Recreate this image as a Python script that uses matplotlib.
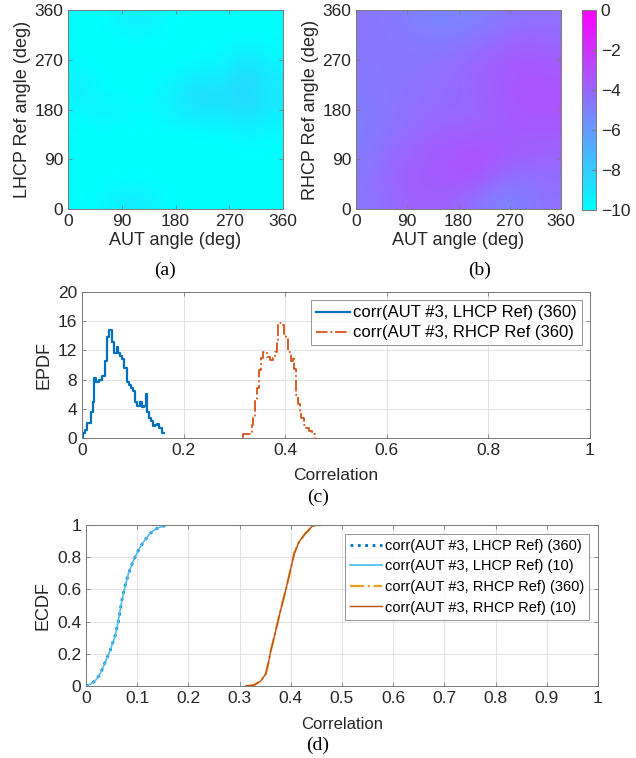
import numpy as np
import matplotlib
matplotlib.use("Agg")
import matplotlib.pyplot as plt

plt.rcParams['font.family'] = ['Liberation Sans', 'DejaVu Sans']

# ---- data ----
angles = [0, 45, 90, 135, 180, 225, 270, 315, 360]

# (a) corr with LHCP ref, rows = ref angle 0..360, cols = AUT angle 0..360
lhcp_map = [
    [-10.0, -9.8, -9.1, -9.5, -10.0, -10.0, -10.0, -10.0, -10.0],
    [-10.0, -10.0, -10.0, -10.0, -10.0, -10.0, -10.0, -10.0, -10.0],
    [-10.0, -10.0, -10.0, -10.0, -10.0, -10.0, -10.0, -10.0, -10.0],
    [-10.0, -10.0, -10.0, -10.0, -10.0, -10.0, -10.0, -9.5, -9.8],
    [-9.8, -9.3, -9.8, -9.8, -9.3, -8.7, -8.9, -8.5, -9.2],
    [-9.2, -10.0, -10.0, -10.0, -9.3, -8.7, -8.9, -8.4, -9.1],
    [-9.8, -10.0, -10.0, -10.0, -10.0, -9.8, -9.6, -8.6, -9.5],
    [-10.0, -10.0, -10.0, -10.0, -10.0, -10.0, -10.0, -9.7, -10.0],
    [-10.0, -10.0, -9.3, -9.4, -10.0, -10.0, -10.0, -10.0, -10.0],
]

# (b) corr with RHCP ref
rhcp_map = [
    [-4.6, -4.2, -3.8, -3.8, -4.0, -4.6, -5.2, -4.8, -4.4],
    [-4.6, -4.0, -3.7, -3.5, -3.3, -3.4, -4.2, -4.4, -4.2],
    [-4.8, -4.2, -3.9, -3.6, -3.3, -3.2, -3.5, -3.8, -3.9],
    [-4.9, -4.5, -4.2, -3.9, -3.8, -3.7, -3.7, -3.6, -3.6],
    [-4.9, -4.6, -4.4, -4.2, -4.2, -4.0, -3.6, -3.3, -3.3],
    [-4.8, -4.6, -4.5, -4.3, -4.2, -3.9, -3.5, -3.2, -3.3],
    [-4.7, -4.6, -4.6, -4.5, -4.2, -3.9, -3.6, -3.4, -3.6],
    [-4.6, -4.6, -4.7, -4.8, -4.7, -4.3, -4.0, -3.8, -4.0],
    [-4.6, -4.7, -5.0, -5.2, -5.2, -5.0, -4.6, -4.4, -4.4],
]

# (c) EPDF staircases (bin start, density)
epdf_l_x = [0.000, 0.0013, 0.0059, 0.0092, 0.017, 0.021, 0.024, 0.0276, 0.034, 0.0387,
            0.045, 0.0486, 0.0538, 0.059, 0.063, 0.068, 0.0715, 0.075, 0.079, 0.083,
            0.088, 0.093, 0.096, 0.0997, 0.104, 0.108, 0.114, 0.119, 0.122, 0.126,
            0.127, 0.131, 0.135, 0.140, 0.144, 0.148, 0.152, 0.157, 0.161]
epdf_l_y = [0.0, 0.7, 1.1, 2.0, 3.6, 5.0, 8.2, 7.7, 8.0, 8.5,
            10.5, 13.9, 14.8, 13.1, 11.6, 12.4, 11.6, 11.3, 10.8, 9.6,
            7.7, 7.3, 6.8, 6.4, 5.0, 4.4, 4.9, 4.2, 4.4, 6.0,
            3.6, 2.7, 2.3, 1.6, 1.8, 1.9, 1.4, 0.7, 0.7]

epdf_r_x = [0.314, 0.3176, 0.334, 0.337, 0.341, 0.345, 0.349, 0.352, 0.357, 0.3635,
            0.370, 0.375, 0.380, 0.383, 0.3865, 0.393, 0.3976, 0.4016, 0.406, 0.411,
            0.415, 0.417, 0.421, 0.426, 0.429, 0.432, 0.437, 0.441, 0.4475, 0.4536,
            0.459]
epdf_r_y = [0.2, 0.55, 1.8, 2.9, 5.2, 6.8, 9.3, 10.9, 11.8, 11.1,
            10.7, 10.9, 11.8, 13.4, 15.7, 15.5, 14.3, 13.9, 11.8, 10.5,
            11.1, 9.5, 5.9, 4.7, 3.4, 2.7, 1.8, 1.4, 0.9, 0.55,
            0.0]

# (d) ECDF
ecdf_l360_x = [0.0, 0.0078, 0.0176, 0.0275, 0.0373, 0.047, 0.0569, 0.0634, 0.070, 0.0765,
               0.083, 0.0928, 0.1026, 0.1124, 0.1255, 0.1386, 0.158]
ecdf_l360_y = [0.0, 0.01, 0.031, 0.073, 0.146, 0.219, 0.313, 0.406, 0.531, 0.625,
               0.698, 0.781, 0.844, 0.896, 0.948, 0.979, 1.0]
ecdf_l10_x = [0.0, 0.0078, 0.0176, 0.0275, 0.0373, 0.047, 0.0569, 0.0634, 0.070, 0.0765,
              0.083, 0.0928, 0.1026, 0.1124, 0.1255, 0.1386, 0.158]
ecdf_l10_y = [0.0, 0.01, 0.03, 0.075, 0.145, 0.22, 0.31, 0.41, 0.53, 0.62,
              0.70, 0.78, 0.845, 0.895, 0.95, 0.98, 1.0]

ecdf_r360_x = [0.3118, 0.328, 0.341, 0.351, 0.356, 0.361, 0.3706, 0.380, 0.390, 0.400,
               0.4065, 0.416, 0.429, 0.4425, 0.459]
ecdf_r360_y = [0.0, 0.006, 0.031, 0.073, 0.14, 0.219, 0.344, 0.469, 0.594, 0.729,
               0.823, 0.896, 0.948, 0.994, 1.0]
ecdf_r10_x = [0.3118, 0.328, 0.341, 0.351, 0.356, 0.361, 0.3706, 0.380, 0.390, 0.400,
              0.4065, 0.416, 0.429, 0.4425, 0.459]
ecdf_r10_y = [0.0, 0.005, 0.03, 0.075, 0.14, 0.22, 0.345, 0.47, 0.595, 0.73,
              0.82, 0.895, 0.95, 0.995, 1.0]

deg_ticks = [0, 90, 180, 270, 360]
cbar_ticks = [0, -2, -4, -6, -8, -10]

W, H = 636, 758
fig = plt.figure(figsize=(W / 100, H / 100), dpi=100)


def rect(l, t, r, b):
    return [l / W, 1 - b / H, (r - l) / W, (b - t) / H]


txt = '#262626'
frame = '#7a7a7a'


def style(ax, fs=11.5):
    ax.tick_params(direction='in', length=3, top=True, right=True,
                   colors=frame, labelcolor=txt, labelsize=fs, width=0.6)
    for s in ax.spines.values():
        s.set_color(frame)
        s.set_linewidth(0.7)


# ---- (a) and (b) ----
for pos, data, ylab, tag, tagx in [
        ((68, 10, 283, 209), lhcp_map, 'LHCP Ref angle (deg)', '(a)', 165),
        ((356, 10, 561, 209), rhcp_map, 'RHCP Ref angle (deg)', '(b)', 480)]:
    ax = fig.add_axes(rect(*pos))
    im = ax.imshow(np.array(data), origin='lower', cmap='cool', vmin=-10, vmax=0,
                   extent=[0, 360, 0, 360], interpolation='bicubic', aspect='auto')
    ax.set_xticks(deg_ticks)
    ax.set_yticks(deg_ticks)
    style(ax, 12.5)
    ax.set_xlabel('AUT angle (deg)', fontsize=13, color=txt, labelpad=2)
    ax.set_ylabel(ylab, fontsize=13, color=txt, labelpad=2)
    fig.text(tagx / W, 1 - 270 / H, tag, ha='center', va='center',
             fontsize=14, family='Liberation Serif', color='black')

cax = fig.add_axes(rect(582, 10, 596, 210))
cb = fig.colorbar(im, cax=cax, ticks=cbar_ticks)
cb.outline.set_edgecolor(frame)
cb.outline.set_linewidth(0.7)
cax.tick_params(direction='in', length=3, colors=frame, labelcolor=txt, labelsize=12.5)

# ---- (c) EPDF ----
axc = fig.add_axes(rect(82, 292, 590, 438))
axc.step(epdf_l_x, epdf_l_y, where='post', color='#0072BD', lw=1.6,
         label='corr(AUT #3, LHCP Ref) (360)')
axc.step(epdf_r_x, epdf_r_y, where='post', color='#D95319', lw=1.3, ls='-.',
         label='corr(AUT #3, RHCP Ref (360)')
axc.set_xlim(0, 1)
axc.set_ylim(0, 20)
axc.set_xticks([0, 0.2, 0.4, 0.6, 0.8, 1])
axc.set_xticklabels(['0', '0.2', '0.4', '0.6', '0.8', '1'])
axc.set_yticks([0, 4, 8, 12, 16, 20])
axc.grid(True, color='#e3e3e3', lw=0.8)
axc.set_axisbelow(True)
style(axc, 12.5)
axc.set_xlabel('Correlation', fontsize=12.5, color=txt, labelpad=7)
axc.set_ylabel('EPDF', fontsize=13, color=txt, labelpad=4)
leg = axc.legend(loc='upper right', fontsize=12, frameon=True, fancybox=False,
                 edgecolor=frame, handlelength=2.0, handletextpad=0.2,
                 borderpad=0.3, labelspacing=0.3, borderaxespad=0.5)
leg.get_frame().set_linewidth(0.7)
fig.text(318 / W, 1 - 497 / H, '(c)', ha='center', va='center',
         fontsize=14, family='Liberation Serif', color='black')

# ---- (d) ECDF ----
axd = fig.add_axes(rect(86, 525, 598, 686))
axd.plot(ecdf_l360_x, ecdf_l360_y, color='#0072BD', lw=2.0, ls=':',
         label='corr(AUT #3, LHCP Ref) (360)')
axd.plot(ecdf_l10_x, ecdf_l10_y, color='#4DBEEE', lw=1.2,
         label='corr(AUT #3, LHCP Ref) (10)')
axd.plot(ecdf_r360_x, ecdf_r360_y, color='#EDA020', lw=1.6, ls='-.',
         label='corr(AUT #3, RHCP Ref) (360)')
axd.plot(ecdf_r10_x, ecdf_r10_y, color='#C0501A', lw=1.0,
         label='corr(AUT #3, RHCP Ref) (10)')
axd.set_xlim(0, 1)
axd.set_ylim(0, 1)
axd.set_xticks(np.round(np.arange(0, 1.01, 0.1), 1))
axd.set_xticklabels(['0', '0.1', '0.2', '0.3', '0.4', '0.5', '0.6', '0.7', '0.8', '0.9', '1'])
axd.set_yticks([0, 0.2, 0.4, 0.6, 0.8, 1])
axd.set_yticklabels(['0', '0.2', '0.4', '0.6', '0.8', '1'])
axd.grid(True, color='#e3e3e3', lw=0.8)
axd.set_axisbelow(True)
style(axd, 12.5)
axd.set_xlabel('Correlation', fontsize=12, color=txt, labelpad=8)
axd.set_ylabel('ECDF', fontsize=13, color=txt, labelpad=4)
leg = axd.legend(loc='upper right', fontsize=10.5, frameon=True, fancybox=False,
                 edgecolor=frame, handlelength=2.2, handletextpad=0.2,
                 borderpad=0.35, labelspacing=0.45, borderaxespad=0.6)
leg.get_frame().set_linewidth(0.7)
fig.text(318 / W, 1 - 745 / H, '(d)', ha='center', va='center',
         fontsize=14, family='Liberation Serif', color='black')

fig.savefig('out.png', dpi=100)
